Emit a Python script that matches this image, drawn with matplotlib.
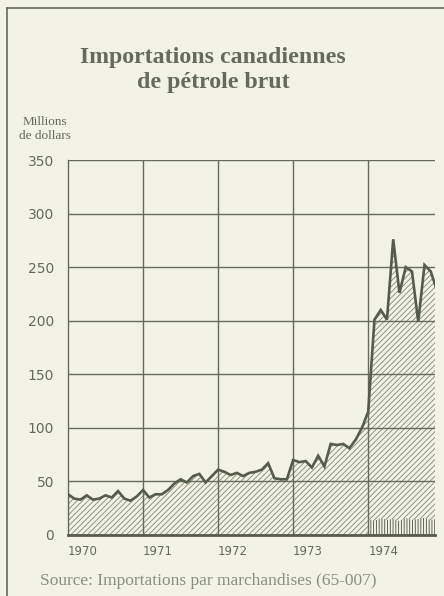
import numpy as np
import matplotlib.pyplot as plt
from matplotlib.lines import Line2D

# monthly crude oil imports, millions of dollars, Jan 1970 - Dec 1974
imports_1970 = [38, 34, 33, 37, 33, 34, 37, 35, 41, 34, 32, 36]
imports_1971 = [42, 35, 38, 38, 42, 48, 52, 49, 55, 57, 49, 55]
imports_1972 = [61, 59, 56, 58, 55, 58, 59, 61, 67, 53, 52, 52]
imports_1973 = [70, 68, 69, 63, 74, 64, 85, 84, 85, 81, 89, 100]
imports_1974 = [115, 201, 210, 201, 276, 226, 250, 246, 199, 252, 246, 228]
# small vertically hatched band at the bottom of 1974
band_1974 = [15, 13, 16, 14, 15, 13, 16, 14, 15, 16, 14, 15]

years = [1970, 1971, 1972, 1973, 1974]
yticks = [0, 50, 100, 150, 200, 250, 300, 350]

values = imports_1970 + imports_1971 + imports_1972 + imports_1973 + imports_1974
dates = 1970 + np.arange(len(values)) / 12
band_dates = dates[-len(band_1974):]

bg = '#f2f3e4'
ink = '#646b58'

plt.rcParams['hatch.linewidth'] = 0.6

fig = plt.figure(figsize=(4.44, 5.96), dpi=100, facecolor=bg)
ax = fig.add_axes([68 / 444, 1 - 535 / 596, 367 / 444, 375 / 596])
ax.set_facecolor(bg)

ax.fill_between(dates, 0, values, facecolor=bg, edgecolor='#80876f',
                hatch='//////', linewidth=0, zorder=1)
ax.fill_between(band_dates, 0, band_1974, facecolor=bg, edgecolor='#474d3d',
                hatch='||||||', linewidth=0, zorder=2)
ax.plot(dates, values, color='#555c48', lw=1.9, zorder=4, solid_joinstyle='miter')

ax.set_xlim(1970, 1974.89)
ax.set_ylim(0, 350)

for y in yticks[1:]:
    ax.axhline(y, color=ink, lw=1.0, zorder=3)
for yr in years[1:]:
    ax.axvline(yr, color=ink, lw=1.0, zorder=3)

for s in ['top', 'right']:
    ax.spines[s].set_visible(False)
ax.spines['left'].set_color(ink)
ax.spines['left'].set_linewidth(1.0)
ax.spines['bottom'].set_color('#555c48')
ax.spines['bottom'].set_linewidth(2.0)
ax.spines['bottom'].set_zorder(5)

ax.set_yticks(yticks)
ax.set_yticklabels([str(v) for v in yticks], fontsize=10, color=ink,
                   family='DejaVu Sans')
ax.tick_params(axis='y', length=0, pad=10)
ax.set_xticks(years)
ax.set_xticklabels([str(v) for v in years], fontsize=8.5, color=ink,
                   family='DejaVu Sans', ha='left')
ax.tick_params(axis='x', length=0, pad=7)

fig.text(213 / 444, 1 - 70 / 596, 'Importations canadiennes\nde pétrole brut',
         ha='center', va='center', fontsize=17.2, color=ink, fontweight='bold',
         family='Liberation Serif', linespacing=1.2)
fig.text(45 / 444, 1 - 129 / 596, 'Millions\nde dollars', ha='center', va='center',
         fontsize=9.5, color=ink, family='Liberation Serif', linespacing=1.2)
fig.text(40 / 444, 1 - 581 / 596, 'Source: Importations par marchandises (65-007)',
         ha='left', va='center', fontsize=12.5, color='#8a8f7c',
         family='Liberation Serif')

# page frame (top and left edges of the scan)
fig.add_artist(Line2D([7 / 444, 7 / 444], [0, 1 - 8 / 596], color=ink, lw=1.2,
                      transform=fig.transFigure))
fig.add_artist(Line2D([7 / 444, 1], [1 - 8 / 596, 1 - 8 / 596], color=ink, lw=1.2,
                      transform=fig.transFigure))

fig.savefig('out.png', dpi=100, facecolor=bg)
